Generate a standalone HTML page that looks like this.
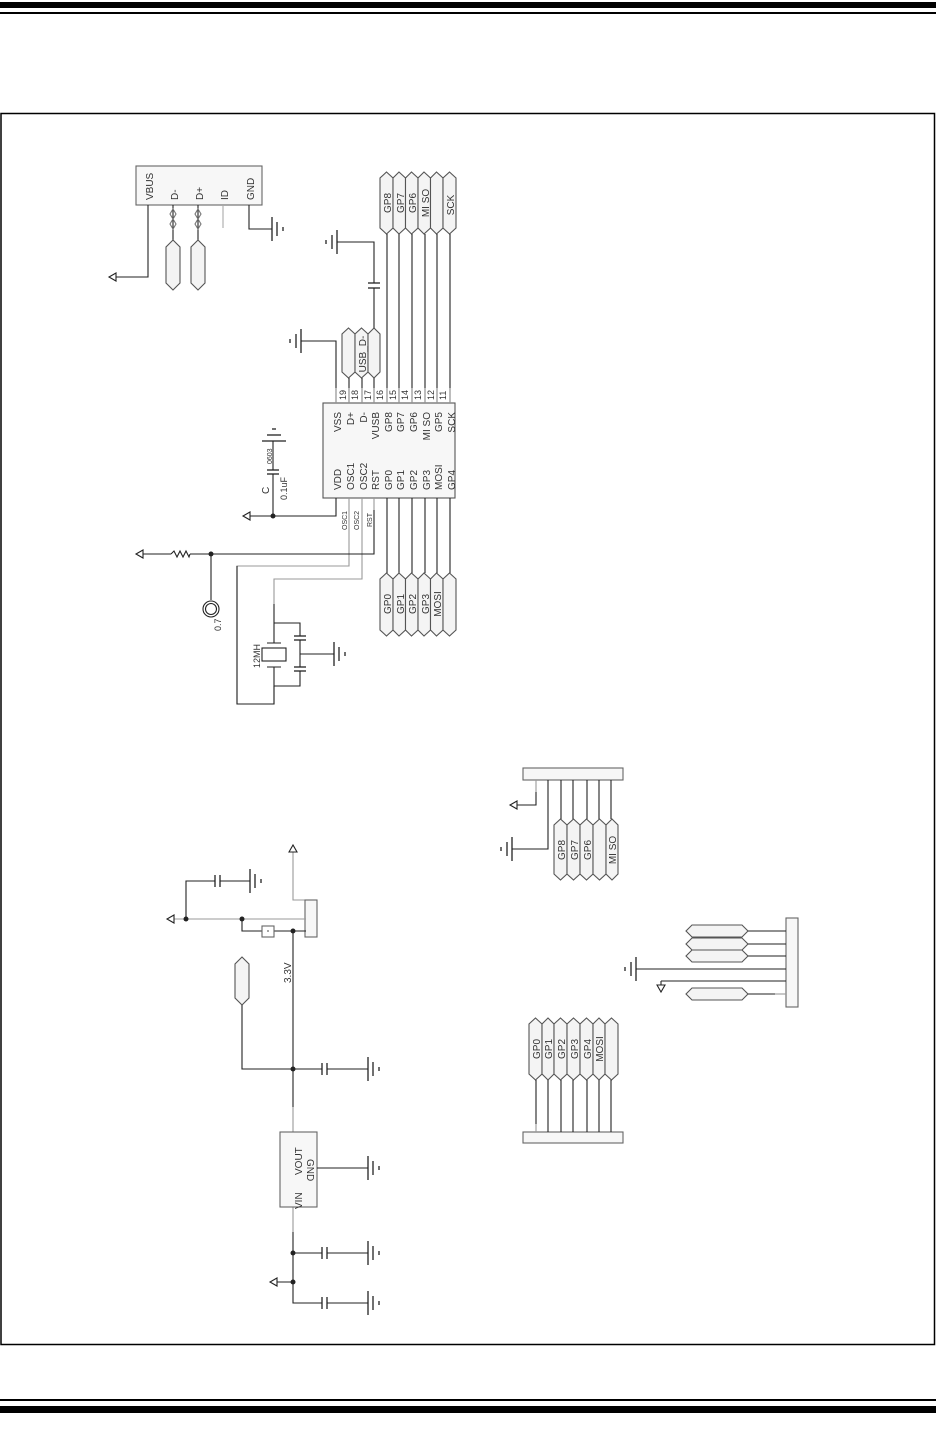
<!DOCTYPE html>
<html><head><meta charset="utf-8"><style>
html,body{margin:0;padding:0;background:#fff;}
svg{display:block;}
text{font-family:"Liberation Sans",sans-serif;fill:#333;}
</style></head><body>
<svg width="936" height="1429" viewBox="0 0 936 1429" xmlns="http://www.w3.org/2000/svg">
<defs>
<g id="gr"><line x1="0" y1="-12" x2="0" y2="12" stroke="#222" stroke-width="1.3"/><line x1="5" y1="-7" x2="5" y2="7" stroke="#222" stroke-width="1.3"/><line x1="11" y1="-2" x2="11" y2="2" stroke="#222" stroke-width="1.3"/></g>
<g id="gl"><line x1="0" y1="-12" x2="0" y2="12" stroke="#222" stroke-width="1.3"/><line x1="-5" y1="-7" x2="-5" y2="7" stroke="#222" stroke-width="1.3"/><line x1="-11" y1="-2" x2="-11" y2="2" stroke="#222" stroke-width="1.3"/></g>
<g id="caph"><line x1="0" y1="-6" x2="0" y2="6" stroke="#222" stroke-width="1.3"/><line x1="5" y1="-6" x2="5" y2="6" stroke="#222" stroke-width="1.3"/></g>
</defs>
<rect x="0" y="2" width="936" height="6" fill="#000"/>
<rect x="0" y="12" width="936" height="2" fill="#000"/>
<rect x="0" y="1399" width="936" height="2" fill="#000"/>
<rect x="0" y="1406" width="936" height="7" fill="#000"/>
<rect x="1" y="113.5" width="933.5" height="1231" fill="none" stroke="#000" stroke-width="1.5"/>

<g fill="none" stroke="#222" stroke-width="1.1">
<rect x="136" y="166" width="126" height="39" fill="#f7f7f7" stroke="#666"/>
<path d="M148 205V277H116"/>
<path d="M116 273L109 277L116 281Z" fill="#fff"/>
<path d="M173 205V240M198 205V240"/>
<path d="M173 209l3 5-3 5-3-5z M173 219l3 5-3 5-3-5z M198 209l3 5-3 5-3-5z M198 219l3 5-3 5-3-5z" stroke="#777"/>
<path d="M223 205V228" stroke="#aaa"/>
<path d="M249 205V229H272"/>
<polygon points="173,240 180,247 180,283 173,290 166,283 166,247" fill="#f4f4f4" stroke="#555"/>
<polygon points="198,240 205,247 205,283 198,290 191,283 191,247" fill="#f4f4f4" stroke="#555"/>

<polygon points="386.5,172 393,178 393,228 386.5,234 380,228 380,178" fill="#f4f4f4" stroke="#555"/>
<polygon points="399,172 405.5,178 405.5,228 399,234 393,228 393,178" fill="#f4f4f4" stroke="#555"/>
<polygon points="411.5,172 418,178 418,228 411.5,234 405.5,228 405.5,178" fill="#f4f4f4" stroke="#555"/>
<polygon points="424,172 430.5,178 430.5,228 424,234 418,228 418,178" fill="#f4f4f4" stroke="#555"/>
<polygon points="436.5,172 443,178 443,228 436.5,234 430.5,228 430.5,178" fill="#f4f4f4" stroke="#555"/>
<polygon points="449.5,172 456,178 456,228 449.5,234 443,228 443,178" fill="#f4f4f4" stroke="#555"/>
<path d="M387 234V403M399 234V403M412 234V403M425 234V403M437 234V403M450 234V403"/>
<polygon points="348.5,328 355,334 355,372 348.5,378 342,372 342,334" fill="#f4f4f4" stroke="#555"/>
<polygon points="361.5,328 368,334 368,372 361.5,378 355,372 355,334" fill="#f4f4f4" stroke="#555"/>
<polygon points="374,328 380,334 380,372 374,378 368,372 368,334" fill="#f4f4f4" stroke="#555"/>
<path d="M349 378V403M362 378V403M374 378V403"/>
<path d="M336 403V341H301"/>
<path d="M374 328V288M374 283V242H337"/>

<rect x="323" y="403" width="132" height="95" fill="#f7f7f7" stroke="#555"/>
<path d="M336 388V403M349 388V403M362 388V403M374 388V403M387 388V403M399 388V403M412 388V403M425 388V403M437 388V403M450 388V403" stroke="#999"/>
<path d="M336 498V516H250"/>
<path d="M250 512L243 516L250 520Z" fill="#fff"/>
<path d="M273 516V474M273 470V441"/>
<path d="M349 498V566H237V704H274V686" stroke="#999"/>
<path d="M237 566V704H274V686"/>
<path d="M362 498V579H274V604" stroke="#999"/>
<path d="M274 604V643M274 623H300V636M300 640V667M300 671V686H274V667"/>
<rect x="262" y="648" width="24" height="13" fill="#fff"/>
<path d="M267 643H281M267 667H281"/>
<path d="M300 654H334"/>
<path d="M374 498V510" stroke="#999"/>
<path d="M374 510V554H190 M171 554H143"/>
<path d="M171 554l3-3 3 6 3-6 3 6 3-6 3 6 1-3"/>
<path d="M143 550L136 554L143 558Z" fill="#fff"/>
<path d="M211 554V600"/>
<circle cx="211" cy="609" r="8"/><circle cx="211" cy="609" r="5.5"/>
<path d="M387 498V573M399 498V573M412 498V573M425 498V573M437 498V573M450 498V573"/>
<polygon points="386.5,573 393,579 393,630 386.5,636 380,630 380,579" fill="#f4f4f4" stroke="#555"/>
<polygon points="399,573 405.5,579 405.5,630 399,636 393,630 393,579" fill="#f4f4f4" stroke="#555"/>
<polygon points="411.5,573 418,579 418,630 411.5,636 405.5,630 405.5,579" fill="#f4f4f4" stroke="#555"/>
<polygon points="424,573 430.5,579 430.5,630 424,636 418,630 418,579" fill="#f4f4f4" stroke="#555"/>
<polygon points="436.5,573 443,579 443,630 436.5,636 430.5,630 430.5,579" fill="#f4f4f4" stroke="#555"/>
<polygon points="449.5,573 456,579 456,630 449.5,636 443,630 443,579" fill="#f4f4f4" stroke="#555"/>

<path d="M293 852V900H306" stroke="#999"/>
<path d="M289 852L293 845L297 852Z" fill="#fff"/>
<rect x="305" y="900" width="12" height="37" fill="#f7f7f7" stroke="#666"/>
<path d="M174 919H306" stroke="#999"/>
<path d="M174 915L167 919L174 923Z" fill="#fff"/>
<path d="M186 919V881H215M220 881H250"/>
<path d="M242 919V931H262M274 931H306"/>
<rect x="262" y="926" width="12" height="11" fill="#fff" stroke="#666"/>
<path d="M293 931V1107"/>
<polygon points="242,957 249,964 249,998 242,1005 235,998 235,964" fill="#f4f4f4" stroke="#555"/>
<path d="M242 1005V1069H322M327 1069H368"/>
<path d="M293 1107V1132M293 1207V1232" stroke="#999"/>
<rect x="280" y="1132" width="37" height="75" fill="#f7f7f7" stroke="#666"/>
<path d="M317 1168H368"/>
<path d="M293 1232V1303H322M327 1303H368M293 1253H322M327 1253H368M293 1282H277"/>
<path d="M277 1278L270 1282L277 1286Z" fill="#fff"/>

<rect x="523" y="768" width="100" height="12" fill="#f7f7f7" stroke="#666"/>
<path d="M536 780V792" stroke="#999"/>
<path d="M536 792V805H517"/>
<path d="M517 801L510 805L517 809Z" fill="#fff"/>
<path d="M548 780V849H512"/>
<path d="M561 780V819M573 780V819M587 780V819M599 780V819M611 780V819"/>
<polygon points="560.5,819 567,825 567,874 560.5,880 554,874 554,825" fill="#f4f4f4" stroke="#555"/>
<polygon points="573.5,819 580,825 580,874 573.5,880 567,874 567,825" fill="#f4f4f4" stroke="#555"/>
<polygon points="586.5,819 593,825 593,874 586.5,880 580,874 580,825" fill="#f4f4f4" stroke="#555"/>
<polygon points="599.5,819 606,825 606,874 599.5,880 593,874 593,825" fill="#f4f4f4" stroke="#555"/>
<polygon points="612,819 618,825 618,874 612,880 606,874 606,825" fill="#f4f4f4" stroke="#555"/>

<rect x="523" y="1132" width="100" height="11" fill="#f7f7f7" stroke="#666"/>
<polygon points="535.5,1018 542,1024 542,1074 535.5,1080 529,1074 529,1024" fill="#f4f4f4" stroke="#555"/>
<polygon points="548,1018 554,1024 554,1074 548,1080 542,1074 542,1024" fill="#f4f4f4" stroke="#555"/>
<polygon points="560.5,1018 567,1024 567,1074 560.5,1080 554,1074 554,1024" fill="#f4f4f4" stroke="#555"/>
<polygon points="573.5,1018 580,1024 580,1074 573.5,1080 567,1074 567,1024" fill="#f4f4f4" stroke="#555"/>
<polygon points="586.5,1018 593,1024 593,1074 586.5,1080 580,1074 580,1024" fill="#f4f4f4" stroke="#555"/>
<polygon points="599,1018 605,1024 605,1074 599,1080 593,1074 593,1024" fill="#f4f4f4" stroke="#555"/>
<polygon points="611.5,1018 618,1024 618,1074 611.5,1080 605,1074 605,1024" fill="#f4f4f4" stroke="#555"/>
<path d="M536 1080V1124M548 1080V1132M561 1080V1132M573 1080V1132M587 1080V1132M599 1080V1132M611 1080V1132"/>
<path d="M536 1124V1132" stroke="#999"/>

<rect x="786" y="918" width="12" height="89" fill="#f7f7f7" stroke="#666"/>
<polygon points="686,931 692,925 742,925 748,931 742,937 692,937" fill="#f4f4f4" stroke="#555"/>
<polygon points="686,944 692,938 742,938 748,944 742,950 692,950" fill="#f4f4f4" stroke="#555"/>
<polygon points="686,956 692,950 742,950 748,956 742,962 692,962" fill="#f4f4f4" stroke="#555"/>
<polygon points="686,994 692,988 742,988 748,994 742,1000 692,1000" fill="#f4f4f4" stroke="#555"/>
<path d="M748 931H786M748 944H786M748 956H786M748 994H775M636 969H786M661 981H786M661 981V985"/>
<path d="M775 994H786" stroke="#999"/>
<path d="M657 985L661 992L665 985Z" fill="#fff"/>
</g>
<use href="#gr" x="272" y="229"/>
<use href="#gl" x="301" y="341"/>
<use href="#gl" x="337" y="242"/>
<g stroke="#222" stroke-width="1.3"><line x1="262" y1="441" x2="286" y2="441"/><line x1="267" y1="435" x2="281" y2="435"/><line x1="272" y1="429" x2="276" y2="429"/>
<line x1="267" y1="470" x2="279" y2="470"/><line x1="267" y1="474" x2="279" y2="474"/>
<line x1="368" y1="283" x2="380" y2="283"/><line x1="368" y1="288" x2="380" y2="288"/>
<line x1="294" y1="636" x2="306" y2="636"/><line x1="294" y1="640" x2="306" y2="640"/>
<line x1="294" y1="667" x2="306" y2="667"/><line x1="294" y1="671" x2="306" y2="671"/></g>
<use href="#gr" x="334" y="654"/>
<use href="#caph" x="215" y="881"/>
<use href="#gr" x="250" y="881"/>
<use href="#caph" x="322" y="1069"/>
<use href="#gr" x="368" y="1069"/>
<use href="#gr" x="368" y="1168"/>
<use href="#caph" x="322" y="1253"/>
<use href="#gr" x="368" y="1253"/>
<use href="#caph" x="322" y="1303"/>
<use href="#gr" x="368" y="1303"/>
<use href="#gl" x="512" y="849"/>
<use href="#gl" x="636" y="969"/>
<g fill="#222"><circle cx="273" cy="516" r="2.5"/><circle cx="211" cy="554" r="2.5"/><circle cx="186" cy="919" r="2.5"/><circle cx="242" cy="919" r="2.5"/><circle cx="293" cy="931" r="2.5"/><circle cx="293" cy="1069" r="2.5"/><circle cx="293" cy="1253" r="2.5"/><circle cx="293" cy="1282" r="2.5"/></g>
<circle cx="268" cy="931" r="1" fill="#888"/>

<g font-size="10">
<text transform="translate(153,200) rotate(-90)">VBUS</text>
<text transform="translate(178,200) rotate(-90)">D-</text>
<text transform="translate(203,200) rotate(-90)">D+</text>
<text transform="translate(228,200) rotate(-90)">ID</text>
<text transform="translate(254,200) rotate(-90)">GND</text>
<g text-anchor="middle">
<text transform="translate(391,203) rotate(-90)">GP8</text>
<text transform="translate(404,203) rotate(-90)">GP7</text>
<text transform="translate(416,203) rotate(-90)">GP6</text>
<text transform="translate(429,203) rotate(-90)">MI SO</text>
<text transform="translate(454,205) rotate(-90)">SCK</text>
<text transform="translate(366,354) rotate(-90)">USB_D-</text>
<text transform="translate(391,604) rotate(-90)">GP0</text>
<text transform="translate(404,604) rotate(-90)">GP1</text>
<text transform="translate(416,604) rotate(-90)">GP2</text>
<text transform="translate(429,604) rotate(-90)">GP3</text>
<text transform="translate(441,604) rotate(-90)">MOSI</text>
<text transform="translate(565,850) rotate(-90)">GP8</text>
<text transform="translate(578,850) rotate(-90)">GP7</text>
<text transform="translate(591,850) rotate(-90)">GP6</text>
<text transform="translate(616,850) rotate(-90)">MI SO</text>
<text transform="translate(540,1049) rotate(-90)">GP0</text>
<text transform="translate(552,1049) rotate(-90)">GP1</text>
<text transform="translate(565,1049) rotate(-90)">GP2</text>
<text transform="translate(578,1049) rotate(-90)">GP3</text>
<text transform="translate(591,1049) rotate(-90)">GP4</text>
<text transform="translate(603,1049) rotate(-90)">MOSI</text>
</g>
<g text-anchor="end">
<text transform="translate(341,412) rotate(-90)">VSS</text>
<text transform="translate(354,412) rotate(-90)">D+</text>
<text transform="translate(367,412) rotate(-90)">D-</text>
<text transform="translate(379,412) rotate(-90)">VUSB</text>
<text transform="translate(392,412) rotate(-90)">GP8</text>
<text transform="translate(404,412) rotate(-90)">GP7</text>
<text transform="translate(417,412) rotate(-90)">GP6</text>
<text transform="translate(430,412) rotate(-90)">MI SO</text>
<text transform="translate(442,412) rotate(-90)">GP5</text>
<text transform="translate(455,412) rotate(-90)">SCK</text>
</g>
<text transform="translate(341,490) rotate(-90)">VDD</text>
<text transform="translate(354,490) rotate(-90)">OSC1</text>
<text transform="translate(367,490) rotate(-90)">OSC2</text>
<text transform="translate(379,490) rotate(-90)">RST</text>
<text transform="translate(392,490) rotate(-90)">GP0</text>
<text transform="translate(404,490) rotate(-90)">GP1</text>
<text transform="translate(417,490) rotate(-90)">GP2</text>
<text transform="translate(430,490) rotate(-90)">GP3</text>
<text transform="translate(442,490) rotate(-90)">MOSI</text>
<text transform="translate(455,490) rotate(-90)">GP4</text>
<text transform="translate(302,1175) rotate(-90)">VOUT</text>
<text transform="translate(302,1209) rotate(-90)">VIN</text>
<text transform="translate(307,1159) rotate(90)">GND</text>
<text transform="translate(291,983) rotate(-90)">3.3V</text>
<text transform="translate(269,494) rotate(-90)">C</text>
</g>
<g font-size="9">
<text transform="translate(346,400) rotate(-90)">19</text>
<text transform="translate(358,400) rotate(-90)">18</text>
<text transform="translate(371,400) rotate(-90)">17</text>
<text transform="translate(383,400) rotate(-90)">16</text>
<text transform="translate(396,400) rotate(-90)">15</text>
<text transform="translate(408,400) rotate(-90)">14</text>
<text transform="translate(421,400) rotate(-90)">13</text>
<text transform="translate(434,400) rotate(-90)">12</text>
<text transform="translate(446,400) rotate(-90)">11</text>
<text transform="translate(287,500) rotate(-90)">0.1uF</text>
<text transform="translate(260,668) rotate(-90)">12MH</text>
<text transform="translate(221,631) rotate(-90)">0.7</text>
</g>
<g font-size="7">
<text transform="translate(272,464) rotate(-90)">0603</text>
<text transform="translate(347,530) rotate(-90)">OSC1</text>
<text transform="translate(359,530) rotate(-90)">OSC2</text>
<text transform="translate(372,527) rotate(-90)">RST</text>
</g>
</svg>
</body></html>
